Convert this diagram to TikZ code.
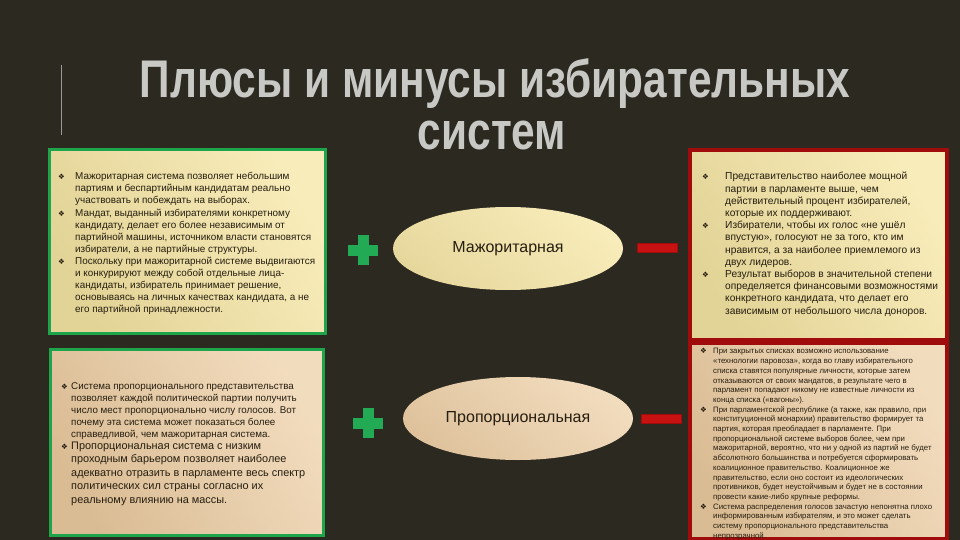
\documentclass[tikz,border=0pt]{standalone}
\usepackage{fontspec}
\setmainfont{Liberation Sans}
\newfontfamily\symfont{DejaVu Sans}
\newfontfamily\headfont[FakeStretch=0.8]{Liberation Sans Bold}
\usetikzlibrary{shapes.geometric,positioning}

\definecolor{bgdark}{RGB}{44,41,33}
\definecolor{plusgreen}{RGB}{34,170,84}
\definecolor{boxgreen}{RGB}{30,165,75}
\definecolor{minusred}{RGB}{200,18,18}
\definecolor{boxred}{RGB}{160,12,12}
\definecolor{paleyellow}{RGB}{248,236,186}
\definecolor{darkyellow}{RGB}{226,211,150}
\definecolor{paletan}{RGB}{242,220,190}
\definecolor{darktan}{RGB}{218,188,148}
\definecolor{inkbrown}{RGB}{38,30,16}
\definecolor{titlegrey}{RGB}{200,200,196}

% bullet of the lists and the hanging indent after it
\newcommand{\bul}[1]{\makebox[#1][l]{\symfont\fontsize{7.5}{7.5}\selectfont ❖}}
\newcommand{\ind}[1]{\hspace*{#1}}

\begin{document}
\begin{tikzpicture}[x=1pt, y=-1pt,
    yellowbox/.style = {rectangle, line width=3pt, draw=boxgreen,
        top color=paleyellow, bottom color=darkyellow, shading angle=300},
    tanbox/.style = {rectangle, line width=3pt, draw=boxgreen,
        top color=paletan, bottom color=darktan, shading angle=300},
    listtext/.style = {inner sep=0pt, align=left, text=inkbrown, anchor=north west},
    titleline/.style = {inner sep=0pt, text=titlegrey,
        font=\headfont\fontsize{53}{53}\selectfont},
    plussign/.style = {minimum size=30pt, inner sep=0pt,
        path picture={
            \fill[plusgreen] ([xshift=-5.5pt]path picture bounding box.north)
                rectangle ([xshift=5.5pt]path picture bounding box.south);
            \fill[plusgreen] ([yshift=5.5pt]path picture bounding box.west)
                rectangle ([yshift=-5.5pt]path picture bounding box.east);}},
    minussign/.style = {rectangle, minimum width=40pt, minimum height=9pt,
        inner sep=0pt, fill=minusred, draw=boxred, line width=0.8pt},
    systemoval/.style = {ellipse, minimum width=230pt, minimum height=83pt,
        inner sep=0pt, font=\fontsize{16}{18}\selectfont, text=inkbrown}
]

        % Background and frame of the slide.
        \fill[bgdark] (0,0) rectangle (960,540);
        \useasboundingbox (0,0) rectangle (960,540);
        \draw[gray!80, line width=1pt] (61,65) -- (61,135);

        % Title, two lines.
        \node[titleline, anchor=base] (title) at (495,98)
            {Плюсы и минусы избирательных};
        \node[titleline, anchor=base] (titleb) at (492,150) {систем};

        % The four boxes.
        \node[yellowbox, minimum width=276pt, minimum height=183pt] (majpro) at (187,241.5) {};
        \node[tanbox, minimum width=273pt, minimum height=186pt] (proppro) at (186.5,442) {};
        \node[yellowbox, draw=boxred, line width=3.5pt,
            minimum width=257pt, minimum height=190pt] (majcon) at (818.5,245) {};
        \node[tanbox, draw=boxred, line width=3.5pt,
            minimum width=257pt, minimum height=196pt] (propcon) at (818.5,441) {};

        % The two systems, with their pluses and minuses.
        \node[systemoval, top color=paleyellow, bottom color=darkyellow!80!paleyellow,
            shading angle=320] (maj) at (508,248.5) {Мажоритарная};
        \node[systemoval, top color=paletan, bottom color=darktan!80!paletan,
            shading angle=320] (prop) at (518,418.5) {Пропорциональная};
        \node[plussign] (majplus) at (363,250) {};
        \node[plussign] (propplus) at (368,423) {};
        \node[minussign] (majminus) at (657,247.5) {};
        \node[minussign] (propminus) at (661,419) {};

        % Pros of the majority system.
        \node[listtext, font=\fontsize{9.9}{12.1}\selectfont] (majprotext) at (58,172.3)
            {\bul{17pt}Мажоритарная система позволяет небольшим\\
             \ind{17pt}партиям и беспартийным кандидатам реально\\
             \ind{17pt}участвовать и побеждать на выборах.\\
             \bul{17pt}Мандат, выданный избирателями конкретному\\
             \ind{17pt}кандидату, делает его более независимым от\\
             \ind{17pt}партийной машины, источником власти становятся\\
             \ind{17pt}избиратели, а не партийные структуры.\\
             \bul{17pt}Поскольку при мажоритарной системе выдвигаются\\
             \ind{17pt}и конкурируют между собой отдельные лица-\\
             \ind{17pt}кандидаты, избиратель принимает решение,\\
             \ind{17pt}основываясь на личных качествах кандидата, а не\\
             \ind{17pt}его партийной принадлежности.};

        % Pros of the proportional system.
        \node[listtext, font=\fontsize{9.8}{12}\selectfont] (propprotext) at (61,382.4)
            {\bul{10pt}Система пропорционального представительства\\
             \ind{10pt}позволяет каждой политической партии получить\\
             \ind{10pt}число мест пропорционально числу голосов. Вот\\
             \ind{10pt}почему эта система может показаться более\\
             \ind{10pt}справедливой, чем мажоритарная система.};
        \node[listtext, font=\fontsize{10.9}{13.4}\selectfont] (propprotextb) at (61,441.8)
            {\bul{10pt}Пропорциональная система с низким\\
             \ind{10pt}проходным барьером позволяет наиболее\\
             \ind{10pt}адекватно отразить в парламенте весь спектр\\
             \ind{10pt}политических сил страны согласно их\\
             \ind{10pt}реальному влиянию на массы.};

        % Cons of the majority system.
        \node[listtext, font=\fontsize{10.2}{12.2}\selectfont] (majcontext) at (702,172.2)
            {\bul{23pt}Представительство наиболее мощной\\
             \ind{23pt}партии в парламенте выше, чем\\
             \ind{23pt}действительный процент избирателей,\\
             \ind{23pt}которые их поддерживают.\\
             \bul{23pt}Избиратели, чтобы их голос «не ушёл\\
             \ind{23pt}впустую», голосуют не за того, кто им\\
             \ind{23pt}нравится, а за наиболее приемлемого из\\
             \ind{23pt}двух лидеров.\\
             \bul{23pt}Результат выборов в значительной степени\\
             \ind{23pt}определяется финансовыми возможностями\\
             \ind{23pt}конкретного кандидата, что делает его\\
             \ind{23pt}зависимым от небольшого числа доноров.};

        % Cons of the proportional system.
        \node[listtext, font=\fontsize{7.8}{9.7}\selectfont] (propcontext) at (700,348.3)
            {\bul{13pt}При закрытых списках возможно использование\\
             \ind{13pt}«технологии паровоза», когда во главу избирательного\\
             \ind{13pt}списка ставятся популярные личности, которые затем\\
             \ind{13pt}отказываются от своих мандатов, в результате чего в\\
             \ind{13pt}парламент попадают никому не известные личности из\\
             \ind{13pt}конца списка («вагоны»).\\
             \bul{13pt}При парламентской республике (а также, как правило, при\\
             \ind{13pt}конституционной монархии) правительство формирует та\\
             \ind{13pt}партия, которая преобладает в парламенте. При\\
             \ind{13pt}пропорциональной системе выборов более, чем при\\
             \ind{13pt}мажоритарной, вероятно, что ни у одной из партий не будет\\
             \ind{13pt}абсолютного большинства и потребуется сформировать\\
             \ind{13pt}коалиционное правительство. Коалиционное же\\
             \ind{13pt}правительство, если оно состоит из идеологических\\
             \ind{13pt}противников, будет неустойчивым и будет не в состоянии\\
             \ind{13pt}провести какие-либо крупные реформы.\\
             \bul{13pt}Система распределения голосов зачастую непонятна плохо\\
             \ind{13pt}информированным избирателям, и это может сделать\\
             \ind{13pt}систему пропорционального представительства\\
             \ind{13pt}непрозрачной.};
    \end{tikzpicture}
\end{document}
